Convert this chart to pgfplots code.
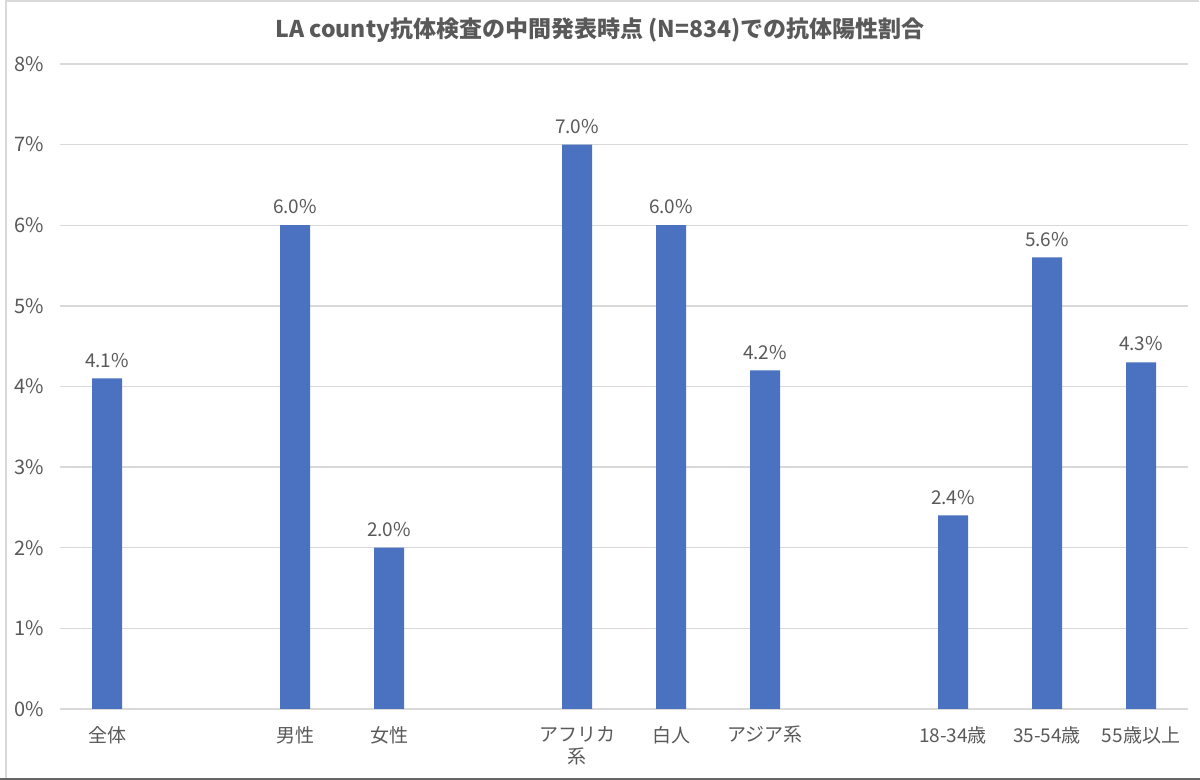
\documentclass[border=0pt]{standalone}
\usepackage{pgfplots}
\pgfplotsset{compat=1.18}
\usepackage{fontspec}
\setmainfont{Noto Sans CJK JP}
\definecolor{barblue}{HTML}{4A72C0}
\definecolor{txtgray}{HTML}{595959}
\definecolor{gridgray}{HTML}{D9D9D9}
\begin{document}
\begin{tikzpicture}
\useasboundingbox (0,0) rectangle (600pt,390pt);
\draw[gridgray, line width=0.8pt] (3pt,0.3pt) -- (3pt,389.5pt) -- (599.7pt,389.5pt);
\draw[black!60, line width=1pt] (0,0.5pt) -- (600pt,0.5pt);
\node[font=\fontsize{11.5pt}{13pt}\selectfont\bfseries, text=txtgray] at (300pt,375pt) {LA county抗体検査の中間発表時点 (N=834)での抗体陽性割合};
\begin{axis}[
  at={(30pt,35.5pt)}, anchor=south west,
  scale only axis, width=564pt, height=322.5pt,
  xmin=-0.5, xmax=11.5, ymin=0, ymax=8,
  axis line style={draw=none},
  axis x line*=bottom,
  axis y line*=left,
  ymajorgrids, grid style={gridgray, line width=0.7pt},
  ytick={0,1,...,8},
  major tick length=0pt,
  xtick={0,2,3,5,6,7,9,10,11},
  xticklabels={全体,男性,女性,{アフリカ\\系},白人,アジア系,18-34歳,35-54歳,55歳以上},
  xticklabel style={font=\fontsize{9.5pt}{11pt}\selectfont, text=txtgray, align=center, anchor=north, yshift=-5pt},
  yticklabel={\pgfmathprintnumber{\tick}\%},
  /pgf/number format/assume math mode=true,
  yticklabel style={font=\fontsize{10pt}{11pt}\selectfont, text=txtgray, anchor=east, xshift=-4.5pt},
  nodes near coords={\pgfmathprintnumber[fixed,fixed zerofill,precision=1]{\pgfplotspointmeta}\%},
  nodes near coords style={font=\fontsize{9.5pt}{11pt}\selectfont, text=txtgray, anchor=south, yshift=2pt},
  clip=false,
]
\addplot[ybar, bar width=15pt, fill=barblue, draw=none] coordinates {
  (0,4.1) (2,6.0) (3,2.0) (5,7.0) (6,6.0) (7,4.2) (9,2.4) (10,5.6) (11,4.3)
};
\end{axis}
\end{tikzpicture}
\end{document}
